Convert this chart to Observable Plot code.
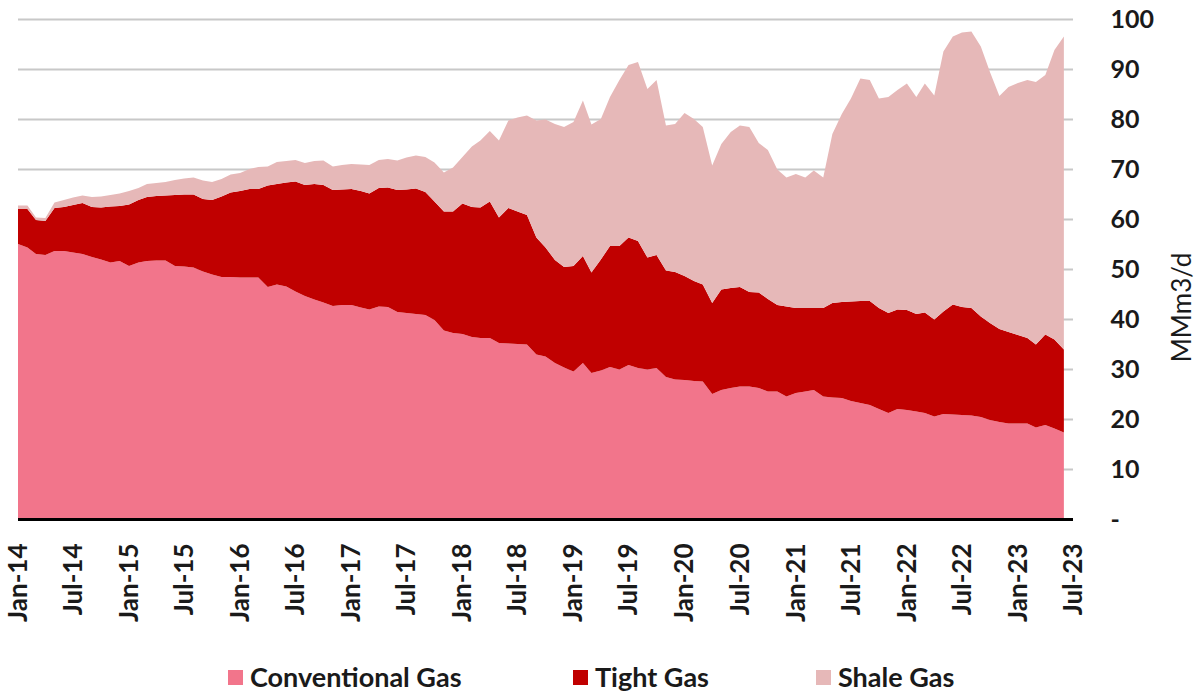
<!DOCTYPE html>
<html>
<head>
<meta charset="utf-8">
<script src="https://cdn.jsdelivr.net/npm/d3@7"></script>
<script src="https://cdn.jsdelivr.net/npm/@observablehq/plot@0.6"></script>
<style>
  html, body { margin: 0; padding: 0; background: #fff; }
  body { width: 1196px; height: 693px; overflow: hidden; font-family: Lato, "Open Sans", sans-serif; }
  #legend { position: relative; width: 1196px; height: 53px; }
  .item { position: absolute; top: 23px; display: flex; align-items: center; font-weight: bold; font-size: 27px; color: #1a1a1a; line-height: 28px; }
  .sw { width: 15px; height: 15px; margin-right: 7px; display: inline-block; }
</style>
</head>
<body>
<div id="chart"></div>
<div id="legend"></div>
<script>
// Monthly series, Jan-14 .. Jun-23 (MMm3/d)
const seriesNames = ["Conventional Gas", "Tight Gas", "Shale Gas"];
const seriesColors = ["#f2758b", "#c00000", "#e6b8b8"];

const conventional = [
  55.0,54.3,53.0,52.8,53.6,53.6,53.3,53.0,52.4,51.9,51.3,51.6,
  50.6,51.3,51.6,51.7,51.7,50.6,50.5,50.3,49.5,48.9,48.4,48.4,
  48.3,48.3,48.3,46.4,46.9,46.5,45.5,44.6,43.9,43.3,42.6,42.8,
  42.8,42.3,41.9,42.5,42.4,41.4,41.2,41.0,40.8,39.8,37.7,37.2,
  37.0,36.4,36.2,36.2,35.2,35.1,35.0,34.9,32.9,32.5,31.2,30.3,
  29.5,31.2,29.2,29.7,30.4,29.9,30.8,30.2,29.9,30.2,28.4,27.9,
  27.8,27.6,27.5,25.0,25.8,26.2,26.5,26.5,26.2,25.5,25.5,24.5,
  25.2,25.5,25.8,24.5,24.3,24.2,23.6,23.2,22.8,22.0,21.2,22.0,
  21.8,21.5,21.2,20.5,21.0,20.9,20.8,20.7,20.4,19.8,19.4,19.1,
  19.1,19.1,18.3,18.8,18.1,17.3
];
const tight = [
  7.0,7.7,6.8,6.8,8.6,8.8,9.5,10.2,10.0,10.4,11.2,11.0,
  12.3,12.5,12.8,12.9,13.0,14.2,14.4,14.6,14.5,14.9,16.1,16.9,
  17.3,17.7,17.7,20.3,20.1,20.8,22.0,22.2,23.1,23.5,23.2,23.1,
  23.2,23.3,23.2,23.7,23.9,24.4,24.7,25.1,24.6,23.7,23.8,24.3,
  26.1,26.0,26.1,27.3,25.1,27.1,26.5,25.9,23.4,21.8,20.6,20.1,
  21.1,21.4,20.1,22.2,24.2,24.7,25.5,25.4,22.4,22.6,21.3,21.5,
  20.8,20.0,19.4,18.2,20.1,20.0,19.9,18.9,19.1,18.5,17.3,18.0,
  17.0,16.7,16.4,17.7,18.9,19.2,19.9,20.4,20.8,20.2,20.0,19.9,
  20.0,19.5,20.1,19.4,20.5,22.0,21.6,21.5,20.1,19.4,18.6,18.3,
  17.7,17.1,16.6,18.1,17.8,16.6
];
const shale = [
  0.7,0.7,0.5,0.6,1.1,1.4,1.5,1.5,2.0,2.2,2.3,2.5,
  2.7,2.4,2.6,2.6,2.7,3.0,3.2,3.4,3.7,3.6,3.5,3.6,
  3.6,4.0,4.4,3.8,4.4,4.3,4.3,4.4,4.6,4.9,4.7,4.9,
  5.0,5.3,5.7,5.6,5.7,5.9,6.4,6.6,7.0,7.8,7.8,8.8,
  9.3,12.1,13.4,14.1,15.4,17.5,18.8,19.9,23.4,25.6,27.2,28.0,
  28.8,31.1,29.6,28.1,29.8,33.2,34.5,35.8,33.7,35.0,29.0,29.6,
  32.6,32.4,31.5,27.5,29.1,31.2,32.3,33.0,29.9,29.8,27.1,25.8,
  26.8,26.1,27.5,26.1,33.8,37.6,40.6,44.5,44.2,41.9,43.2,43.9,
  45.3,43.4,45.8,44.8,52.0,53.6,54.9,55.3,54.0,50.2,46.6,49.0,
  50.4,51.6,52.5,51.9,57.9,62.6
];

const start = new Date(Date.UTC(2014, 0, 1));
const axisEnd = new Date(Date.UTC(2023, 6, 1));
const months = d3.utcMonths(start, axisEnd); // Jan-14 .. Jun-23
const xTicks = d3.utcMonth.every(6).range(start, new Date(Date.UTC(2023, 6, 2)));
const yTicks = [0,10,20,30,40,50,60,70,80,90,100];
const fmt = d3.utcFormat("%b-%y");

const rows = [];
[conventional, tight, shale].forEach((arr, k) => {
  arr.forEach((v, i) => rows.push({date: months[i], value: v, series: seriesNames[k]}));
});

const font = "Lato, 'Open Sans', sans-serif";

const chart = Plot.plot({
  width: 1196,
  height: 640,
  marginLeft: 18,
  marginRight: 123,
  marginTop: 19,
  marginBottom: 121,
  style: {fontFamily: font, color: "#1a1a1a", background: "#fff"},
  x: {type: "utc", domain: [start, axisEnd]},
  y: {domain: [0, 100]},
  color: {domain: seriesNames, range: seriesColors},
  marks: [
    Plot.gridY(yTicks.slice(1), {stroke: "#c8c8c8", strokeOpacity: 1, strokeWidth: 2}),
    Plot.areaY(rows, {x: "date", y: "value", fill: "series", order: seriesNames}),
    Plot.ruleY([0], {stroke: "#000", strokeWidth: 3}),
    Plot.axisY(yTicks, {anchor: "right", tickSize: 0, tickPadding: 37, label: null,
      tickFormat: d => d === 0 ? "-" : String(d), fontSize: 25, fontWeight: "bold"}),
    Plot.axisX(xTicks, {anchor: "bottom", tickSize: 0, tickPadding: 24, tickRotate: -90, label: null,
      tickFormat: fmt, fontSize: 26, fontWeight: "bold"}),
    Plot.text(["MMm3/d"], {frameAnchor: "right", dx: 109, dy: 38, rotate: -90, text: d => d,
      textAnchor: "middle", fontSize: 26, fill: "#1a1a1a"})
  ]
});
document.getElementById("chart").appendChild(chart);

const legend = document.getElementById("legend");
const lefts = [228, 573, 816];
seriesNames.forEach((name, k) => {
  const it = document.createElement("div");
  it.className = "item";
  it.style.left = lefts[k] + "px";
  it.innerHTML = `<span class="sw" style="background:${seriesColors[k]}"></span><span>${name}</span>`;
  legend.appendChild(it);
});
</script>
</body>
</html>
